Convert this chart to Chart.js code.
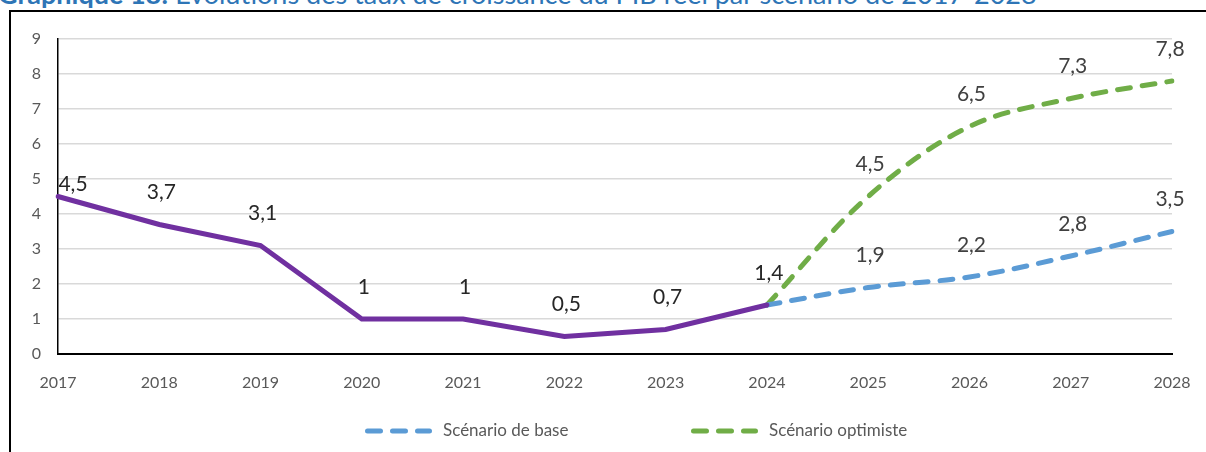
<!DOCTYPE html>
<html>
<head>
<meta charset="utf-8">
<script src="https://cdn.jsdelivr.net/npm/chart.js@4/dist/chart.umd.min.js"></script>
<style>
    html, body { margin: 0; padding: 0; background: #fff; overflow: hidden; }
    #zone { position: relative; width: 1206px; height: 452px; overflow: hidden; }
    #titre {
        position: absolute; left: -2px; top: -20px; white-space: nowrap;
        font-family: Lato, "Noto Sans", sans-serif; font-size: 27px; line-height: 27px; color: #2E75B6;
    }
    #titre b { font-weight: bold; }
    #cadre { position: absolute; left: 9px; top: 10px; width: 1400px; height: 600px; border: 2px solid #000; }
    #graf { position: absolute; left: 0; top: 0; }
</style>
</head>
<body>
<div id="zone">
    <div id="titre"><b>Graphique 18:</b> Evolutions des taux de croissance du PIB réel par scénario de 2017-2028</div>
    <div id="cadre"></div>
    <canvas id="graf" width="1206" height="452"></canvas>
</div>
<script>
const annees = ["2017", "2018", "2019", "2020", "2021", "2022", "2023", "2024", "2025", "2026", "2027", "2028"];
const historique = [4.5, 3.7, 3.1, 1, 1, 0.5, 0.7, 1.4, null, null, null, null];
const scenarioBase = [null, null, null, null, null, null, null, 1.4, 1.9, 2.2, 2.8, 3.5];
const scenarioOptimiste = [null, null, null, null, null, null, null, 1.4, 4.5, 6.5, 7.3, 7.8];
const ticksY = [0, 1, 2, 3, 4, 5, 6, 7, 8, 9];

const fonte = "Lato, 'Noto Sans', sans-serif";

// etiquettes de valeurs (pas de plugin datalabels hors ligne)
const etiquettesPlugin = {
    id: "etiquettes",
    afterDatasetsDraw(chart) {
        const ctx = chart.ctx;
        ctx.save();
        ctx.textAlign = "center";
        ctx.textBaseline = "middle";
        chart.data.datasets.forEach((ds, i) => {
            const meta = chart.getDatasetMeta(i);
            ds.data.forEach((v, j) => {
                if (v === null || (ds.sansEtiquette || []).includes(j)) return;
                const pt = meta.data[j];
                let dx = 2, dy = -32;
                if (j === 0) { dx = 15; dy = -12; }
                if (j === annees.length - 1) dx = -2;
                ctx.font = "21px " + fonte;
                ctx.fillStyle = ds.couleurEtiquette;
                ctx.fillText(String(v).replace(".", ","), pt.x + dx, pt.y + dy);
            });
        });
        ctx.restore();
    }
};

// legende faite a la main pour la placer comme dans Excel
const legendePlugin = {
    id: "legende",
    afterDraw(chart) {
        const ctx = chart.ctx;
        const items = [
            { ds: 1, x: 365, texte: "Scénario de base" },
            { ds: 2, x: 691, texte: "Scénario optimiste" }
        ];
        ctx.save();
        items.forEach(it => {
            const ds = chart.data.datasets[it.ds];
            ctx.strokeStyle = ds.borderColor;
            ctx.lineWidth = ds.borderWidth;
            ctx.lineCap = "round";
            ctx.setLineDash(ds.borderDash);
            ctx.beginPath();
            ctx.moveTo(it.x + 2.5, 431);
            ctx.lineTo(it.x + 64.5, 431);
            ctx.stroke();
            ctx.setLineDash([]);
            ctx.font = "17px " + fonte;
            ctx.fillStyle = "#595959";
            ctx.textBaseline = "middle";
            ctx.textAlign = "left";
            ctx.fillText(it.texte, it.x + 78, 431);
        });
        ctx.restore();
    }
};

new Chart(document.getElementById("graf"), {
    type: "line",
    data: {
        labels: annees,
        datasets: [
            {
                label: "Historique",
                data: historique,
                borderColor: "#7030A0",
                borderWidth: 5,
                borderCapStyle: "round",
                tension: 0,
                pointRadius: 0,
                couleurEtiquette: "#262626"
            },
            {
                label: "Scénario de base",
                data: scenarioBase,
                borderColor: "#5B9BD5",
                borderWidth: 5,
                borderDash: [13, 12],
                borderCapStyle: "round",
                tension: 0.35,
                pointRadius: 0,
                sansEtiquette: [7],
                couleurEtiquette: "#404040"
            },
            {
                label: "Scénario optimiste",
                data: scenarioOptimiste,
                borderColor: "#70AD47",
                borderWidth: 5,
                borderDash: [13, 12],
                borderCapStyle: "round",
                tension: 0.35,
                pointRadius: 0,
                sansEtiquette: [7],
                couleurEtiquette: "#404040"
            }
        ]
    },
    options: {
        responsive: false,
        animation: false,
        layout: { padding: { left: 10, right: 34, top: 39, bottom: 58 } },
        plugins: {
            legend: { display: false },
            tooltip: { enabled: false }
        },
        scales: {
            x: {
                offset: false,
                grid: { display: false },
                border: { display: true, color: "#000", width: 2 },
                ticks: { color: "#595959", font: { family: fonte, size: 16 }, padding: 11, maxRotation: 0 },
                afterFit: s => { s.height = 40; }
            },
            y: {
                min: 0,
                max: 9,
                grid: { color: "#d9d9d9", lineWidth: 1.5, drawTicks: false },
                border: { display: true, color: "#000", width: 1.5 },
                afterBuildTicks: s => { s.ticks = ticksY.map(v => ({ value: v })); },
                ticks: { color: "#595959", font: { family: fonte, size: 16 }, padding: 17 },
                afterFit: s => { s.width = 48; }
            }
        }
    },
    plugins: [etiquettesPlugin, legendePlugin]
});
</script>
</body>
</html>
